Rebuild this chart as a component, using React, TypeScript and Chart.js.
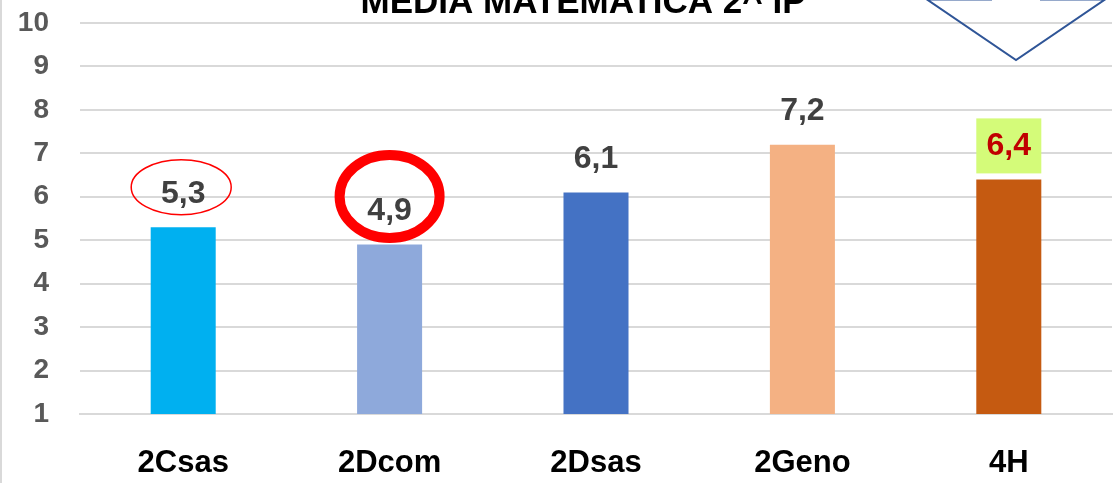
import React, { useEffect, useRef } from "react";
import { Chart, registerables } from "chart.js";

Chart.register(...registerables);

const categories = ["2Csas", "2Dcom", "2Dsas", "2Geno", "4H"];
const values = [5.3, 4.9, 6.1, 7.2, 6.4];
const barColors = ["#00B0F0", "#8EA9DB", "#4472C4", "#F4B183", "#C55A11"];
const yTicks = [1, 2, 3, 4, 5, 6, 7, 8, 9, 10];
const title = "MEDIA MATEMATICA 2^ IP";

const FONT = "'Liberation Sans', Arial, sans-serif";

const decorPlugin = {
  id: "decor",
  beforeDraw(chart: any) {
    const ctx = chart.ctx;
    ctx.save();
    ctx.fillStyle = "#ffffff";
    ctx.fillRect(0, 0, chart.width, chart.height);
    ctx.strokeStyle = "#D9D9D9";
    ctx.lineWidth = 2;
    ctx.beginPath();
    ctx.moveTo(1, 0);
    ctx.lineTo(1, chart.height);
    ctx.stroke();
    ctx.restore();
  },
  afterDatasetsDraw(chart: any) {
    const ctx = chart.ctx;
    const meta = chart.getDatasetMeta(0);
    ctx.save();
    // title (partly cut off at top)
    ctx.font = `bold 35px ${FONT}`;
    ctx.fillStyle = "#000000";
    ctx.textAlign = "center";
    ctx.textBaseline = "alphabetic";
    ctx.fillText(title, 583, 12.5);

    meta.data.forEach((bar: any, i: number) => {
      const x = bar.x;
      const y = bar.y;
      const label = values[i].toFixed(1).replace(".", ",");
      const last = i === values.length - 1;
      if (last) {
        ctx.fillStyle = "#D4FB79";
        ctx.fillRect(x - bar.width / 2, y - 61, bar.width, 55);
      }
      ctx.font = `bold 32px ${FONT}`;
      ctx.fillStyle = last ? "#C00000" : "#404040";
      ctx.textAlign = "center";
      ctx.textBaseline = "middle";
      ctx.fillText(label, x, y - 33);

      if (i === 0) {
        ctx.strokeStyle = "#FF0000";
        ctx.lineWidth = 1.5;
        ctx.beginPath();
        ctx.ellipse(x - 2, y - 40, 50, 27.5, 0, 0, Math.PI * 2);
        ctx.stroke();
      }
      if (i === 1) {
        ctx.strokeStyle = "#FF0000";
        ctx.lineWidth = 10;
        ctx.beginPath();
        ctx.ellipse(x, y - 48, 50, 41.5, 0, 0, Math.PI * 2);
        ctx.stroke();
      }
    });

    // arrow shape at top right
    ctx.strokeStyle = "#2F5597";
    ctx.lineWidth = 2;
    ctx.beginPath();
    ctx.moveTo(992, -0.5);
    ctx.lineTo(927, -0.5);
    ctx.lineTo(1016, 60);
    ctx.lineTo(1105, -0.5);
    ctx.lineTo(1040, -0.5);
    ctx.stroke();
    ctx.restore();
  },
};

export default function App() {
  const ref = useRef<HTMLCanvasElement | null>(null);

  useEffect(() => {
    document.body.style.margin = "0";
    const canvas = ref.current;
    if (!canvas) return;
    const chart = new Chart(canvas, {
      type: "bar",
      data: {
        labels: categories,
        datasets: [
          {
            data: values,
            backgroundColor: barColors,
            borderWidth: 0,
            barPercentage: 0.315,
            categoryPercentage: 1,
          },
        ],
      },
      options: {
        animation: false,
        responsive: false,
        maintainAspectRatio: false,
        devicePixelRatio: 1,
        layout: { padding: { top: 0, right: 8, left: 0, bottom: 0 } },
        plugins: {
          legend: { display: false },
          title: { display: false },
          tooltip: { enabled: false },
        },
        scales: {
          x: {
            grid: { display: false, drawTicks: false },
            border: { display: true, color: "#D9D9D9", width: 2 },
            ticks: {
              color: "#000000",
              font: { family: FONT, size: 31, weight: "bold" },
              padding: 31,
              maxRotation: 0,
              autoSkip: false,
            },
            afterFit(scale: any) {
              scale.height = 69;
            },
          },
          y: {
            min: 1,
            max: 10,
            afterBuildTicks(scale: any) {
              scale.ticks = yTicks.map((v) => ({ value: v }));
            },
            grid: { color: "#D9D9D9", lineWidth: 2, drawTicks: false },
            border: { display: false },
            ticks: {
              color: "#595959",
              font: { family: FONT, size: 28, weight: "bold" },
              padding: 31,
            },
            afterFit(scale: any) {
              scale.width = 80;
              scale.paddingTop = 0;
              scale.paddingBottom = 0;
            },
          },
        },
      },
      plugins: [
        decorPlugin,
        {
          id: "fixArea",
          afterLayout(chart: any) {
            const y = chart.scales.y;
            const top = 23;
            y.top = top;
            y.height = y.bottom - top;
            chart.chartArea.top = top;
            chart.chartArea.height = chart.chartArea.bottom - top;
            y.configure();
          },
        },
      ],
    });
    return () => chart.destroy();
  }, []);

  return (
    <div style={{ width: 1120, height: 483 }}>
      <canvas ref={ref} width={1120} height={483} style={{ display: "block" }} />
    </div>
  );
}
